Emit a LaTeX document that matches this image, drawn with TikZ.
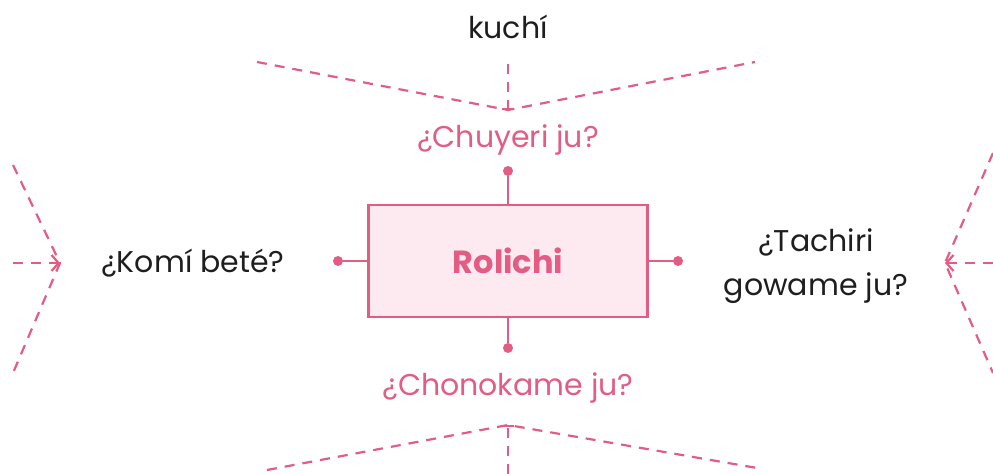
\documentclass[tikz,border=0pt]{standalone}
\usepackage{fontspec}
\setmainfont{Poppins}
\usepackage{tikz}
\usetikzlibrary{arrows.meta, positioning}
\definecolor{rosa}{RGB}{226, 92, 132}
\definecolor{rosafondo}{RGB}{252, 234, 240}
\definecolor{texto}{RGB}{30, 30, 30}

\begin{document}
\begin{tikzpicture}[x=0.5pt, y=-0.5pt,
    linea/.style={rosa, line width=1.4pt},
    guion/.style={rosa, line width=1.1pt, dash pattern=on 5pt off 4pt},
    punto/.style={circle, fill=rosa, inner sep=0pt, minimum size=5pt},
    pregunta/.style={font=\fontsize{15}{22}\selectfont, text=texto, align=center}]
        \useasboundingbox (0,0) rectangle (993,474);

        % 中心框
        \node[draw=rosa, line width=1.4pt, fill=rosafondo, minimum width=139.5pt, minimum height=56pt,
              text=rosa, font=\fontsize{16}{18}\selectfont\bfseries] (rolichi) at (508,261) {Rolichi};

        % 四个点和连线
        \node[punto] (arriba) at (508,171) {};
        \node[punto] (abajo) at (508,348) {};
        \node[punto] (izq) at (338,261) {};
        \node[punto] (der) at (678,261) {};
        \draw[linea] (rolichi.north) -- (arriba);
        \draw[linea] (rolichi.south) -- (abajo);
        \draw[linea] (rolichi.west) -- (izq);
        \draw[linea] (rolichi.east) -- (der);

        % 问题
        \node[pregunta, text=rosa] (chuyeri) at (508,140) {¿Chuyeri ju?};
        \node[pregunta, text=rosa] (chonokame) at (508,388) {¿Chonokame ju?};
        \node[pregunta] (komi) at (193,263) {¿Komí beté?};
        \node[pregunta] (tachiri) at (816,266) {¿Tachiri\\gowame ju?};
        \node[pregunta] (kuchi) at (508,27) {kuchí};

        % 上方虚线
        \coordinate (tA) at (257,62);
        \coordinate (tB) at (508,110);
        \coordinate (tC) at (755,62);
        \coordinate (tD) at (508,64);
        \draw[guion] (tA) -- (tB) -- (tC);
        \draw[guion, -{Bar[width=6pt]}] (tD) -- (tB);

        % 下方虚线
        \coordinate (bA) at (267,470);
        \coordinate (bB) at (508,425);
        \coordinate (bC) at (757,468);
        \coordinate (bD) at (508,474);
        \draw[guion] (bA) -- (bB) -- (bC);
        \draw[guion, -{Bar[width=6pt]}] (bD) -- (bB);

        % 左侧虚线
        \coordinate (lA) at (13,165);
        \coordinate (lB) at (60,263);
        \coordinate (lC) at (13,373);
        \coordinate (lD) at (13,263);
        \draw[guion] (lA) -- (lB) -- (lC);
        \draw[guion, -{Straight Barb[length=3.5pt, width=8pt]}] (lD) -- (lB);

        % 右侧虚线
        \coordinate (rA) at (993,153);
        \coordinate (rB) at (945,263);
        \coordinate (rC) at (993,373);
        \coordinate (rD) at (993,263);
        \draw[guion] (rA) -- (rB) -- (rC);
        \draw[guion, -{Straight Barb[length=3.5pt, width=8pt]}] (rD) -- (rB);
    \end{tikzpicture}
\end{document}
